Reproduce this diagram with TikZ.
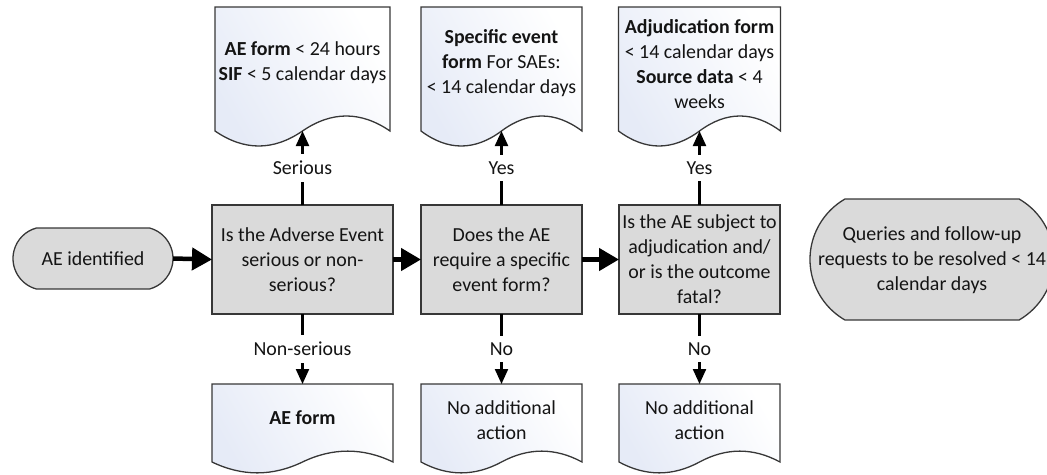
\documentclass[tikz,border=0pt]{standalone}
\usepackage{fontspec}
\setmainfont{Carlito}
\usetikzlibrary{arrows.meta,shapes.misc,calc}
\definecolor{boxgrey}{RGB}{218,218,218}
\definecolor{edge}{RGB}{55,55,55}
\definecolor{docblue}{RGB}{230,235,247}
\definecolor{ink}{RGB}{20,20,20}
% document outline: #1 node name, #2 control offset of the wave
\newcommand\docoutline[2]{%
  \path[docfill] (#1.north west) -- (#1.north east) -- (#1.south east)
    .. controls ($(#1.south east)!1/3!(#1.south)+(0,-#2)$) and ($(#1.south)!1/3!(#1.south east)+(0,-#2)$) .. (#1.south)
    .. controls ($(#1.south)!1/3!(#1.south west)+(0,#2)$) and ($(#1.south west)!1/3!(#1.south)+(0,#2)$) .. (#1.south west) -- cycle;}
\begin{document}
\begin{tikzpicture}[x=1pt,y=-1pt,
  font=\fontsize{19.9}{25}\selectfont, text=ink,
  every node/.style={outer sep=0pt},
  decision/.style={draw=edge, line width=1.3pt, fill=boxgrey, minimum width=#1,
    minimum height=109pt, inner sep=0pt, align=center},
  terminal/.style={rounded rectangle, draw=edge, line width=1.3pt, fill=boxgrey,
    inner sep=0pt},
  docbox/.style={inner sep=0pt, minimum width=#1},
  docfill/.style={draw=edge, line width=1.3pt, left color=docblue, right color=white, shading angle=120},
  doctext/.style={align=center, inner sep=0pt},
  harrow/.style={line width=4.5pt, -{Triangle[length=20pt 0 0,width=22pt 0 0]}},
  varrow/.style={line width=2.2pt, -{Triangle[length=15pt 0 0,width=13pt 0 0]}},
  lbl/.style={fill=white, inner xsep=2pt, inner ysep=7pt}]
\useasboundingbox (0,0) rectangle (1047,474);

% start and end terminals
\node[terminal, minimum width=160pt, minimum height=61pt, rounded rectangle arc length=150] (ae) at (93,258.5) {AE identified};
\node[terminal, minimum width=244pt, minimum height=121pt, rounded rectangle arc length=120] (q) at (932,259.5) {};
\node[doctext] (qt) at (932,260) {Queries and follow-up\\requests to be resolved < 14\\calendar days};

% decisions
\node[decision=181pt] (b1) at (302.5,259.5) {Is the Adverse Event\\serious or non-\\serious?};
\node[decision=161pt] (b2) at (501.5,259.5) {Does the AE\\require a specific\\event form?};
\node[decision=161pt] (b3) at (699.5,259.5) {Is the AE subject to\\adjudication and/\\or is the outcome\\fatal?};

% top documents
\node[docbox=175pt, minimum height=124pt] (d1) at (302.5,69) {};
\node[docbox=161pt, minimum height=124pt] (d2) at (501.5,69) {};
\node[docbox=162pt, minimum height=124pt] (d3) at (699.5,69) {};
\docoutline{d1}{20}
\docoutline{d2}{20}
\docoutline{d3}{20}
\node[doctext] (d1t) at (302.5,63) {\textbf{AE form} < 24 hours\\\textbf{SIF} < 5 calendar days};
\node[doctext] (d2t) at (501.5,63) {\textbf{Specific event}\\\textbf{form} For SAEs:\\< 14 calendar days};
\node[doctext] (d3t) at (699.5,64.5) {\textbf{Adjudication form}\\< 14 calendar days\\\textbf{Source data} < 4\\weeks};

% bottom documents
\node[docbox=181pt, minimum height=78pt] (e1) at (302.5,423) {};
\node[docbox=161pt, minimum height=78pt] (e2) at (501.5,423) {};
\node[docbox=161pt, minimum height=78pt] (e3) at (699.5,423) {};
\docoutline{e1}{14.5}
\docoutline{e2}{14.5}
\docoutline{e3}{14.5}
\node[doctext] (e1t) at (302.5,418) {\textbf{AE form}};
\node[doctext] (e2t) at (501.5,420) {No additional\\action};
\node[doctext] (e3t) at (699.5,420) {No additional\\action};

% main flow
\draw[harrow] (ae.east) -- (b1.west);
\draw[harrow] (b1.east) -- (b2.west);
\draw[harrow] (b2.east) -- (b3.west);

% branches
\draw[varrow] (b1.north) -- node[lbl] {Serious} (d1.south);
\draw[varrow] (b2.north) -- node[lbl] {Yes} (d2.south);
\draw[varrow] (b3.north) -- node[lbl] {Yes} (d3.south);
\draw[varrow] (b1.south) -- node[lbl] {Non-serious} (e1.north);
\draw[varrow] (b2.south) -- node[lbl] {No} (e2.north);
\draw[varrow] (b3.south) -- node[lbl] {No} (e3.north);
\end{tikzpicture}
\end{document}
